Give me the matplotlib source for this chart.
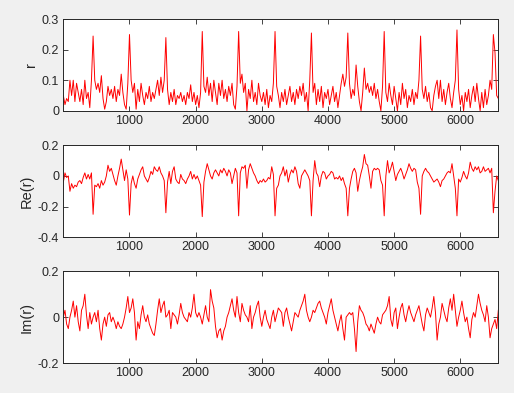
import matplotlib
matplotlib.use('Agg')
import matplotlib.pyplot as plt
import numpy as np

plt.rcParams['font.family'] = ['Liberation Sans', 'DejaVu Sans']
plt.rcParams['axes.unicode_minus'] = False

# samples every 25 points of the signal
step = 25

r_vals = [
    0.05, 0.02, 0.04, 0.03, 0.10, 0.05, 0.10, 0.03, 0.09, 0.06,
    0.03, 0.07, 0.02, 0.10, 0.04, 0.06, 0.01, 0.10, 0.245, 0.10,
    0.07, 0.09, 0.06, 0.115, 0.04, 0.005, 0.03, 0.08, 0.05, 0.07,
    0.04, 0.08, 0.03, 0.07, 0.05, 0.12, 0.06, 0.02, 0.005, 0.09,
    0.25, 0.10, 0.06, 0.09, 0.005, 0.07, 0.03, 0.09, 0.05, 0.02,
    0.06, 0.04, 0.08, 0.03, 0.06, 0.04, 0.07, 0.10, 0.05, 0.11,
    0.06, 0.10, 0.24, 0.07, 0.02, 0.06, 0.03, 0.07, 0.02, 0.05,
    0.04, 0.06, 0.03, 0.05, 0.02, 0.06, 0.04, 0.085, 0.03, 0.06,
    0.02, 0.05, 0.01, 0.06, 0.26, 0.08, 0.06, 0.11, 0.05, 0.09,
    0.03, 0.10, 0.06, 0.02, 0.09, 0.05, 0.10, 0.04, 0.07, 0.03,
    0.08, 0.05, 0.09, 0.02, 0.005, 0.08, 0.26, 0.09, 0.12, 0.06,
    0.09, 0.00, 0.07, 0.04, 0.10, 0.03, 0.06, 0.02, 0.09, 0.05,
    0.03, 0.06, 0.02, 0.07, 0.01, 0.05, 0.03, 0.09, 0.26, 0.08,
    0.05, 0.01, 0.06, 0.03, 0.07, 0.02, 0.05, 0.08, 0.03, 0.06,
    0.02, 0.07, 0.04, 0.08, 0.05, 0.09, 0.03, 0.06, 0.00, 0.10,
    0.255, 0.06, 0.09, 0.02, 0.07, 0.03, 0.08, 0.01, 0.06, 0.04,
    0.07, 0.02, 0.05, 0.08, 0.03, 0.06, 0.01, 0.05, 0.09, 0.12,
    0.08, 0.11, 0.255, 0.09, 0.04, 0.07, 0.05, 0.15, 0.08, 0.03,
    0.00, 0.06, 0.14, 0.07, 0.09, 0.06, 0.08, 0.05, 0.09, 0.04,
    0.07, 0.03, 0.00, 0.08, 0.26, 0.06, 0.03, 0.09, 0.05, 0.02,
    0.08, 0.04, 0.00, 0.06, 0.02, 0.09, 0.04, 0.07, 0.01, 0.05,
    0.03, 0.07, 0.02, 0.06, 0.04, 0.10, 0.245, 0.07, 0.04, 0.08,
    0.03, 0.06, 0.01, 0.00, 0.05, 0.08, 0.10, 0.04, 0.10, 0.03,
    0.07, 0.02, 0.06, 0.09, 0.04, 0.01, 0.06, 0.10, 0.265, 0.07,
    0.02, 0.05, 0.00, 0.06, 0.03, 0.07, 0.01, 0.05, 0.08, 0.03,
    0.09, 0.04, 0.00, 0.06, 0.01, 0.07, 0.02, 0.05, 0.10, 0.07,
    0.25, 0.19, 0.05, 0.04,
]

re_vals = [
    -0.04, 0.02, -0.01, 0.00, -0.10, -0.05, -0.08, -0.06, -0.07, -0.04,
    -0.03, -0.05, -0.01, 0.02, -0.02, 0.01, -0.02, 0.02, -0.25, -0.06,
    -0.07, -0.05, -0.08, -0.03, -0.06, -0.04, 0.00, 0.07, 0.03, 0.05,
    0.01, -0.03, -0.06, 0.00, 0.05, 0.11, 0.04, -0.03, 0.04, -0.02,
    -0.255, -0.05, 0.00, -0.05, -0.08, -0.02, 0.01, 0.04, 0.06, 0.00,
    -0.02, -0.04, -0.01, 0.03, 0.01, 0.06, 0.04, 0.03, 0.06, 0.02,
    0.00, -0.03, -0.24, -0.04, 0.03, -0.05, 0.03, 0.06, -0.02, -0.04,
    -0.05, 0.01, -0.02, -0.03, -0.05, -0.02, 0.00, 0.03, -0.02, 0.01,
    -0.02, 0.00, -0.03, -0.06, -0.265, -0.04, 0.03, 0.08, 0.04, 0.00,
    -0.02, 0.02, 0.04, 0.02, 0.00, 0.04, 0.02, 0.05, 0.03, 0.00,
    0.04, 0.02, -0.05, 0.00, 0.05, 0.02, -0.26, 0.02, 0.06, 0.05,
    0.07, -0.08, 0.04, 0.08, 0.05, 0.02, 0.00, -0.03, -0.05, -0.03,
    -0.04, -0.02, -0.04, -0.03, -0.01, -0.02, 0.06, 0.01, -0.26, -0.08,
    -0.06, 0.00, 0.02, 0.06, 0.00, 0.04, -0.04, 0.01, 0.04, 0.02,
    0.06, 0.03, -0.05, -0.08, 0.00, 0.02, 0.04, 0.02, 0.00, -0.03,
    -0.26, -0.03, 0.10, 0.02, 0.00, -0.07, 0.00, 0.03, 0.02, -0.02,
    0.00, 0.01, 0.03, 0.02, -0.02, -0.01, -0.02, 0.00, -0.03, -0.01,
    -0.05, -0.08, -0.26, -0.08, -0.02, 0.03, 0.05, 0.02, -0.10, -0.03,
    0.02, 0.06, 0.14, 0.08, 0.07, 0.00, -0.08, 0.03, 0.05, 0.04,
    0.05, 0.04, -0.03, -0.06, -0.26, 0.00, 0.10, 0.02, 0.05, 0.09,
    0.03, -0.03, 0.01, 0.03, 0.05, 0.02, -0.02, 0.01, 0.04, 0.08,
    0.05, 0.03, 0.05, 0.04, -0.04, -0.08, -0.25, 0.00, 0.03, 0.05,
    0.03, 0.02, 0.00, -0.02, -0.04, -0.03, -0.02, -0.04, -0.07, -0.03,
    -0.02, 0.00, 0.02, 0.03, 0.02, 0.08, 0.00, -0.08, -0.26, -0.02,
    -0.04, -0.01, 0.03, 0.00, -0.02, 0.02, 0.09, 0.05, 0.03, 0.06,
    0.04, 0.06, 0.02, 0.03, 0.06, 0.03, 0.04, 0.05, 0.02, 0.05,
    -0.24, -0.10, 0.00, -0.03,
]

im_vals = [
    0.00, 0.03, -0.03, -0.05, 0.00, 0.03, 0.07, 0.00, 0.05, -0.02,
    -0.06, 0.03, 0.05, 0.10, 0.01, -0.05, 0.02, -0.03, 0.00, 0.02,
    -0.02, 0.03, -0.05, -0.10, -0.03, 0.00, -0.04, 0.01, 0.02, -0.02,
    0.00, -0.02, -0.05, -0.02, -0.04, -0.05, -0.03, 0.00, 0.04, 0.09,
    0.02, 0.04, 0.08, 0.02, -0.10, -0.02, -0.05, 0.01, 0.05, 0.00,
    -0.02, 0.01, -0.03, -0.05, -0.07, -0.08, -0.03, 0.03, 0.08, 0.02,
    0.05, 0.07, 0.00, 0.01, 0.03, -0.05, 0.02, 0.01, 0.00, -0.03,
    0.01, 0.06, 0.02, 0.00, -0.01, -0.02, 0.02, 0.00, 0.04, 0.10,
    0.02, 0.00, 0.02, 0.00, -0.03, 0.01, 0.05, 0.00, -0.02, 0.12,
    0.07, 0.04, -0.04, -0.09, -0.06, -0.05, -0.10, -0.06, -0.04, 0.00,
    0.02, 0.05, 0.08, 0.03, 0.00, 0.09, 0.02, -0.02, 0.06, 0.03,
    0.01, 0.00, -0.02, 0.05, -0.05, 0.00, 0.02, 0.05, 0.07, 0.00,
    -0.04, 0.00, 0.03, -0.01, -0.03, -0.05, 0.00, 0.03, -0.02, 0.01,
    0.04, 0.03, 0.02, -0.04, 0.02, 0.04, 0.00, -0.03, -0.06, -0.02,
    0.02, 0.01, 0.00, 0.03, 0.05, 0.07, 0.10, 0.03, 0.00, -0.02,
    0.00, 0.03, 0.02, 0.04, 0.06, 0.07, 0.04, 0.02, 0.00, -0.03,
    0.02, 0.05, 0.08, 0.03, 0.00, -0.03, -0.06, -0.02, 0.01, -0.05,
    -0.10, 0.00, 0.01, 0.02, 0.01, 0.02, -0.05, -0.15, -0.02, 0.05,
    0.03, 0.02, 0.00, -0.03, -0.04, -0.06, -0.03, -0.05, -0.07, -0.03,
    0.00, -0.02, -0.03, 0.01, 0.02, 0.03, 0.05, 0.09, -0.01, -0.04,
    0.02, 0.04, -0.05, 0.00, 0.04, 0.06, 0.01, -0.02, 0.02, 0.05,
    0.02, 0.00, -0.02, 0.01, 0.03, 0.05, 0.01, -0.03, -0.06, 0.01,
    0.04, 0.02, 0.00, 0.04, 0.09, 0.02, -0.10, -0.03, 0.00, 0.06,
    0.03, 0.00, -0.02, 0.04, 0.08, 0.03, 0.10, 0.03, -0.04, 0.00,
    0.03, 0.07, 0.02, -0.02, 0.00, -0.05, -0.09, -0.01, 0.02, 0.00,
    0.05, 0.10, 0.06, 0.03, 0.01, -0.02, 0.05, 0.00, -0.09, -0.05,
    -0.03, -0.01, -0.05, 0.03,
]

n = np.arange(len(r_vals)) * step + 1

x_ticks = [1000, 2000, 3000, 4000, 5000, 6000]
panels = [
    (r_vals, 'r', [0, 0.1, 0.2, 0.3], ['0', '0.1', '0.2', '0.3'], (0, 0.3)),
    (re_vals, 'Re(r)', [-0.4, -0.2, 0, 0.2], ['-0.4', '-0.2', '0', '0.2'], (-0.4, 0.2)),
    (im_vals, 'Im(r)', [-0.2, 0, 0.2], ['-0.2', '0', '0.2'], (-0.2, 0.2)),
]
boxes = [
    [0.1232, 0.7183, 0.8463, 0.2326],
    [0.1232, 0.3962, 0.8463, 0.2341],
    [0.1232, 0.0763, 0.8463, 0.2334],
]

fig = plt.figure(figsize=(5.14, 3.93), dpi=100, facecolor='#f0f0f0')
dark = '#262626'

for (vals, label, yt, ytl, ylim), box in zip(panels, boxes):
    ax = fig.add_axes(box)
    ax.plot(n, vals, color='red', lw=0.7)
    ax.set_xlim(1, n[-1])
    ax.set_ylim(*ylim)
    ax.set_xticks(x_ticks)
    ax.set_xticklabels([str(t) for t in x_ticks])
    ax.set_yticks(yt)
    ax.set_yticklabels(ytl)
    ax.set_ylabel(label, fontsize=10.5, color=dark, labelpad=3)
    ax.tick_params(direction='in', length=3.5, width=0.6, top=True, right=True,
                   labelsize=9, colors=dark, pad=3)
    for sp in ax.spines.values():
        sp.set_color(dark)
        sp.set_linewidth(0.7)

fig.savefig('out.png', dpi=100, facecolor=fig.get_facecolor())
